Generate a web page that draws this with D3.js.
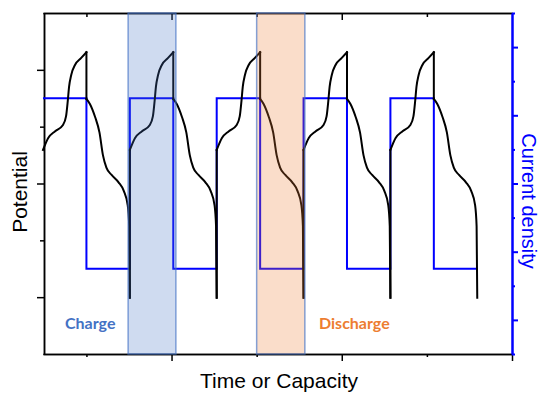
<!DOCTYPE html>
<html>
<head>
<meta charset="utf-8">
<script src="https://cdn.jsdelivr.net/npm/d3@7"></script>
<style>
  body { margin: 0; background: #fff; }
  svg { display: block; font-family: "Liberation Sans", Arial, sans-serif; }
  .axis path, .axis line { stroke: #000; stroke-width: 1.5; }
  .axis-right path, .axis-right line { stroke: #0000ff; stroke-width: 2; }
  .axis text { display: none; }
</style>
</head>
<body>
<svg id="chart" width="540" height="394"></svg>
<script>
// one charge / discharge profile (time in half-cycles, potential in axis units)
var cycleStarts = [0, 2, 4, 6, 8];
var chargeTime = [0, 0.12, 0.28, 0.46, 0.53, 0.57, 0.6, 0.65, 0.74, 0.88, 1.0];
var chargePotential = [3.59, 3.80, 3.92, 4.03, 4.18, 4.45, 4.70, 4.91, 5.09, 5.21, 5.31];
var dischargeTime = [0, 0.08, 0.2, 0.3, 0.38, 0.46, 0.58, 0.74, 0.86, 0.95, 0.985, 1.0];
var dischargePotential = [4.49, 4.40, 4.17, 3.90, 3.50, 3.28, 3.15, 3.02, 2.87, 2.62, 2.25, 0.99];

// current density steps (right axis units)
var currentTime = [0, 1, 2, 3, 4, 5, 6, 7, 8, 9, 10];
var currentValue = [7.5, 2.5, 7.5, 2.5, 7.5, 2.5, 7.5, 2.5, 7.5, 2.5, 2.5];

// highlighted regions
var spanStart = [1.96, 4.92];
var spanEnd = [3.06, 6.03];
var spanFill = ["#4472C4", "#ED7D31"];
var spanLabel = ["Charge", "Discharge"];

// ticks (no labels)
var xTicksMajor = [2.96, 6.88, 10.8];
var xTicksMinor = [1.0, 4.92, 8.84];
var yTicksMajor = [1, 3, 5];
var yTicksMinor = [2, 4];
var y2TicksMajor = [1, 3, 5, 7, 9];
var y2TicksMinor = [0, 2, 4, 6, 8, 10];

var margin = { top: 13, right: 28, bottom: 40, left: 44 };
var width = 540, height = 394;
var contentWidth = width - margin.left - margin.right;
var contentHeight = height - margin.top - margin.bottom;

var svg = d3.select("#chart");
var g = svg.append("g").attr("transform", "translate(" + margin.left + "," + margin.top + ")");

var xScale = d3.scaleLinear().domain([0, 10.8]).range([-1, contentWidth]);
var yScale = d3.scaleLinear().domain([0, 6]).range([contentHeight, 0]);
var y2Scale = d3.scaleLinear().domain([0, 10]).range([contentHeight, 0]);

// axes
g.append("g").attr("class", "axis")
  .call(d3.axisLeft(yScale).tickValues(yTicksMajor).tickSize(7).tickSizeOuter(0).tickFormat(""));
g.append("g").attr("class", "axis")
  .call(d3.axisLeft(yScale).tickValues(yTicksMinor).tickSize(4).tickSizeOuter(0).tickFormat(""));
g.append("g").attr("class", "axis")
  .attr("transform", "translate(0," + contentHeight + ")")
  .call(d3.axisBottom(xScale).tickValues(xTicksMajor).tickSize(7).tickSizeOuter(0).tickFormat(""));
g.append("g").attr("class", "axis")
  .attr("transform", "translate(0," + contentHeight + ")")
  .call(d3.axisBottom(xScale).tickValues(xTicksMinor).tickSize(3).tickSizeOuter(0).tickFormat(""));
g.append("g").attr("class", "axis")
  .call(d3.axisTop(xScale).tickValues(xTicksMajor.slice(0, 2)).tickSize(-7).tickSizeOuter(0).tickFormat(""));
g.append("g").attr("class", "axis")
  .call(d3.axisTop(xScale).tickValues(xTicksMinor).tickSize(-4).tickSizeOuter(0).tickFormat(""));
g.append("g").attr("class", "axis axis-right")
  .attr("transform", "translate(" + contentWidth + ",0)")
  .call(d3.axisRight(y2Scale).tickValues(y2TicksMajor).tickSize(6).tickSizeOuter(0).tickFormat(""));
g.append("g").attr("class", "axis axis-right")
  .attr("transform", "translate(" + contentWidth + ",0)")
  .call(d3.axisRight(y2Scale).tickValues(y2TicksMinor).tickSize(3).tickSizeOuter(0).tickFormat(""));

// current density
var currentData = currentTime.map(function (t, i) { return { x: t, y: currentValue[i] }; });
var stepLine = d3.line()
  .x(function (d) { return xScale(d.x); })
  .y(function (d) { return y2Scale(d.y); })
  .curve(d3.curveStepAfter);
g.append("path")
  .datum(currentData)
  .attr("fill", "none")
  .attr("stroke", "#0000ff")
  .attr("stroke-width", 2)
  .attr("d", stepLine);

// potential
var line = d3.line()
  .x(function (d) { return xScale(d.x); })
  .y(function (d) { return yScale(d.y); })
  .curve(d3.curveMonotoneX);

var segments = [];
cycleStarts.forEach(function (c, k) {
  var charge = chargeTime.map(function (t, i) { return { x: c + t, y: chargePotential[i] }; });
  var discharge = dischargeTime.map(function (t, i) { return { x: c + 1 + t, y: dischargePotential[i] }; });
  segments.push(charge);
  segments.push([charge[charge.length - 1], discharge[0]]);
  segments.push(discharge);
  if (k < cycleStarts.length - 1) {
    segments.push([discharge[discharge.length - 1], { x: cycleStarts[k + 1], y: chargePotential[0] }]);
  }
});

g.selectAll(".potential")
  .data(segments)
  .enter().append("path")
  .attr("class", "potential")
  .attr("fill", "none")
  .attr("stroke", "#000")
  .attr("stroke-width", 2)
  .attr("stroke-linecap", "square")
  .attr("d", line);

// shaded regions on top
spanStart.forEach(function (s, i) {
  g.append("rect")
    .attr("x", xScale(s))
    .attr("y", 0)
    .attr("width", xScale(spanEnd[i]) - xScale(s))
    .attr("height", contentHeight)
    .attr("fill", spanFill[i])
    .attr("fill-opacity", 0.26)
    .attr("stroke", "#4472C4")
    .attr("stroke-opacity", 0.65)
    .attr("stroke-width", 1.5);
});

// labels
svg.append("text")
  .attr("x", 65).attr("y", 329)
  .attr("font-family", "Lato, 'Open Sans', sans-serif")
  .attr("font-weight", "bold")
  .attr("font-size", 16)
  .attr("fill", "#4472C4")
  .text(spanLabel[0]);
svg.append("text")
  .attr("x", 319).attr("y", 329)
  .attr("font-family", "Lato, 'Open Sans', sans-serif")
  .attr("font-weight", "bold")
  .attr("font-size", 16)
  .attr("fill", "#ED7D31")
  .text(spanLabel[1]);

svg.append("text")
  .attr("transform", "translate(27,192) rotate(-90)")
  .attr("text-anchor", "middle")
  .attr("font-size", 21)
  .attr("fill", "#000")
  .text("Potential");
svg.append("text")
  .attr("x", 279).attr("y", 388)
  .attr("text-anchor", "middle")
  .attr("font-size", 21)
  .attr("fill", "#000")
  .text("Time or Capacity");
svg.append("text")
  .attr("transform", "translate(522,201) rotate(90)")
  .attr("text-anchor", "middle")
  .attr("font-size", 20)
  .attr("fill", "#0000ff")
  .text("Current density");
</script>
</body>
</html>
